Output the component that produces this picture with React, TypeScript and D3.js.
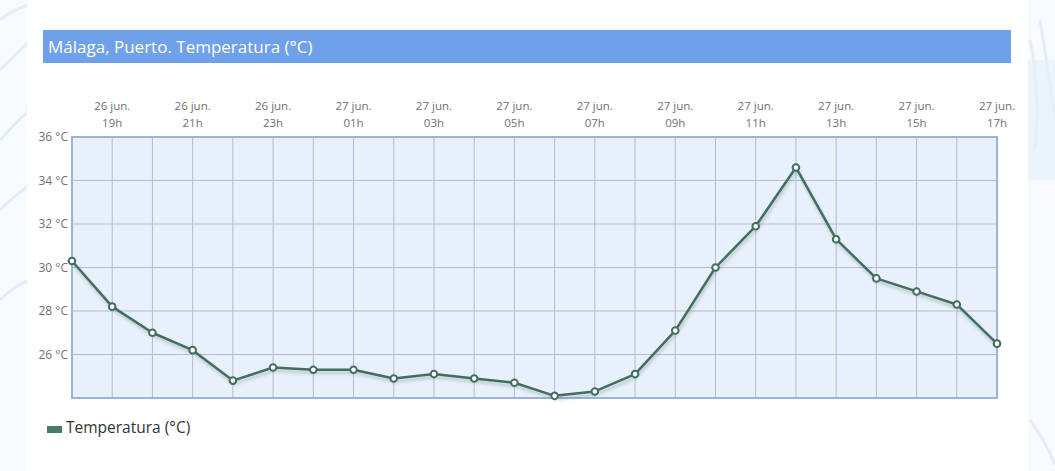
import * as d3 from 'd3'

const days = [
  '26 jun.', '26 jun.', '26 jun.', '26 jun.', '26 jun.', '26 jun.',
  '27 jun.', '27 jun.', '27 jun.', '27 jun.', '27 jun.', '27 jun.',
  '27 jun.', '27 jun.', '27 jun.', '27 jun.', '27 jun.', '27 jun.',
  '27 jun.', '27 jun.', '27 jun.', '27 jun.', '27 jun.', '27 jun.',
]
const hours = [
  '18h', '19h', '20h', '21h', '22h', '23h', '00h', '01h', '02h', '03h', '04h', '05h',
  '06h', '07h', '08h', '09h', '10h', '11h', '12h', '13h', '14h', '15h', '16h', '17h',
]
const temps = [
  30.3, 28.2, 27.0, 26.2, 24.8, 25.4, 25.3, 25.3, 24.9, 25.1, 24.9, 24.7,
  24.1, 24.3, 25.1, 27.1, 30.0, 31.9, 34.6, 31.3, 29.5, 28.9, 28.3, 26.5,
]
const yTicks = [26, 28, 30, 32, 34, 36]

const W = 1055
const H = 471
const plot = { left: 72, right: 997, top: 137, bottom: 398 }
const lineColor = '#426e60'
const font = '"Open Sans", "DejaVu Sans", sans-serif'

export default function App() {
  const keys = hours.map((h, i) => `${i}`)
  const x = d3.scalePoint<string>().domain(keys).range([plot.left, plot.right])
  const y = d3.scaleLinear().domain([24, 36]).range([plot.bottom, plot.top])

  const line = d3.line<number>()
    .x((_, i) => x(keys[i]) as number)
    .y((d) => y(d))

  const path = line(temps) || ''

  return (
    <div style={{ position: 'absolute', left: 0, top: 0, width: W, height: H }}>
      <svg width={W} height={H} style={{ display: 'block' }}>
        <defs>
          <filter id="shadow" x="-5%" y="-5%" width="110%" height="120%">
            <feGaussianBlur stdDeviation="1.5" />
          </filter>
        </defs>
        <rect x={0} y={0} width={W} height={H} fill="#f8fbfd" />
        {/* faint background decorations at the edges */}
        <g stroke="#dcebf5" strokeWidth={3} fill="none" opacity={0.8}>
          <path d="M0,70 Q15,55 30,40" />
          <path d="M0,140 Q18,120 30,110" />
          <path d="M0,210 Q15,195 30,185" />
          <path d="M0,300 Q15,285 30,280" />
          <path d="M0,20 Q12,10 28,5" />
          <path d="M1030,40 Q1040,90 1035,150" />
          <path d="M1040,20 Q1050,80 1055,120" />
          <path d="M1030,420 Q1045,440 1055,465" />
        </g>
        <rect x={1028} y={60} width={27} height={120} fill="#e6f1f8" opacity={0.7} />
        <rect x={27} y={0} width={1001} height={H} fill="#ffffff" />

        {/* title bar */}
        <rect x={43} y={30} width={968} height={33} fill="#6fa0ea" />
        <text x={48} y={53} fill="#ffffff" fontFamily={font} fontSize={17}>
          Málaga, Puerto. Temperatura (°C)
        </text>

        {/* plot background */}
        <rect
          x={plot.left}
          y={plot.top}
          width={plot.right - plot.left}
          height={plot.bottom - plot.top}
          fill="#e8f0fb"
        />

        {/* grid */}
        <g stroke="#b2bccb" strokeWidth={1}>
          {keys.map((k) => (
            <line key={`v${k}`} x1={x(k)} x2={x(k)} y1={plot.top} y2={plot.bottom} />
          ))}
          {yTicks.map((t) => (
            <line key={`h${t}`} x1={plot.left} x2={plot.right} y1={y(t)} y2={y(t)} />
          ))}
        </g>

        {/* plot border */}
        <rect
          x={plot.left}
          y={plot.top}
          width={plot.right - plot.left}
          height={plot.bottom - plot.top}
          fill="none"
          stroke="#9bb3d8"
          strokeWidth={2}
        />

        {/* y labels */}
        {yTicks.map((t) => (
          <text
            key={`yl${t}`}
            x={68}
            y={y(t) + 4}
            textAnchor="end"
            fill="#707070"
            fontFamily={font}
            fontSize={12}
          >
            {`${t} °C`}
          </text>
        ))}

        {/* x labels */}
        {keys.map((k, i) =>
          i % 2 === 1 ? (
            <g key={`xl${k}`} fill="#707070" fontFamily={font} fontSize={11.5} textAnchor="middle">
              <text x={x(k)} y={110}>{days[i]}</text>
              <text x={x(k)} y={127}>{hours[i]}</text>
            </g>
          ) : null
        )}

        {/* series */}
        <path
          d={path}
          fill="none"
          stroke="#6f8f86"
          strokeWidth={3}
          opacity={0.35}
          transform="translate(1,3)"
          filter="url(#shadow)"
        />
        <path d={path} fill="none" stroke={lineColor} strokeWidth={2.5} strokeLinejoin="round" />
        {temps.map((d, i) => (
          <circle
            key={`p${i}`}
            cx={x(keys[i])}
            cy={y(d)}
            r={3.3}
            fill="#ffffff"
            stroke={lineColor}
            strokeWidth={2}
          />
        ))}

        {/* legend */}
        <rect x={47} y={426} width={15} height={7} fill="#4a7a69" />
        <text x={66} y={433} fill="#333" fontFamily={font} fontSize={15.5}>
          Temperatura (°C)
        </text>
      </svg>
    </div>
  )
}
